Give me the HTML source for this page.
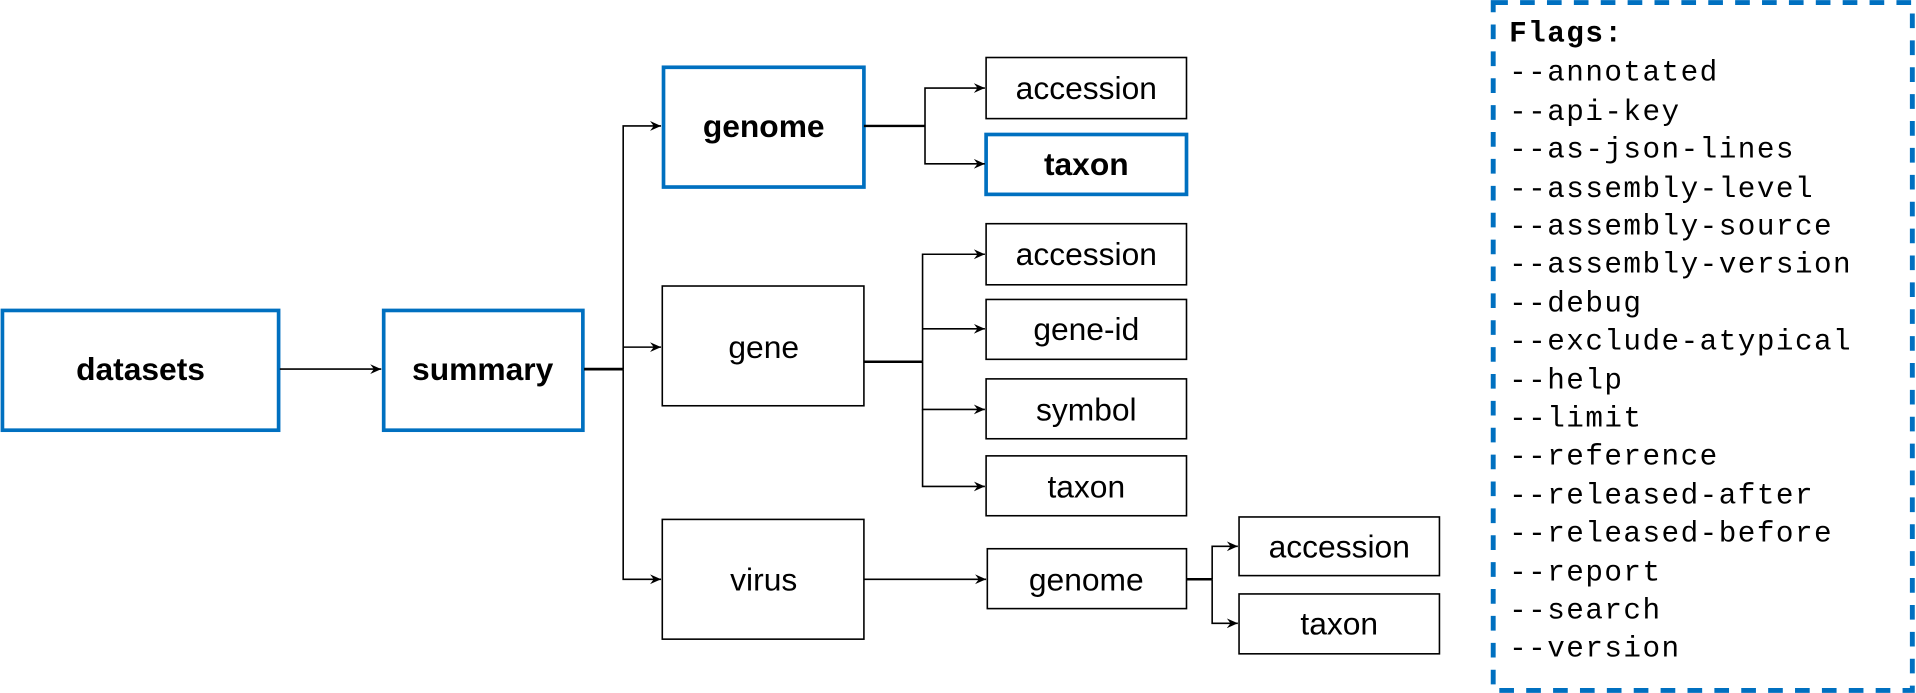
<!DOCTYPE html>
<html><head><meta charset="utf-8"><style>html,body{margin:0;padding:0;background:#fff}svg{display:block}</style></head>
<body>
<svg width="1916" height="693" viewBox="0 0 1568 567" xmlns="http://www.w3.org/2000/svg">
<defs><marker id="a" markerWidth="10" markerHeight="10" refX="9" refY="5" orient="auto" markerUnits="userSpaceOnUse"><path d="M0,1 L9,5 L0,9 L3,5 Z" fill="#000"/></marker></defs>
<g fill="#fff" stroke="#0070c0" stroke-width="3">
<rect x="2" y="254" width="226" height="98"/>
<rect x="314" y="254" width="163" height="98"/>
<rect x="543" y="55" width="164" height="98"/>
<rect x="807" y="110" width="164" height="49"/>
</g>
<g fill="#fff" stroke="#000" stroke-width="1.3">
<rect x="542" y="234" width="165" height="98"/>
<rect x="542" y="425" width="165" height="98"/>
<rect x="807" y="47" width="164" height="50"/>
<rect x="807" y="183" width="164" height="50"/>
<rect x="807" y="245" width="164" height="49"/>
<rect x="807" y="310" width="164" height="49"/>
<rect x="807" y="373" width="164" height="49"/>
<rect x="808" y="449" width="163" height="49"/>
<rect x="1014" y="423" width="164" height="48"/>
<rect x="1014" y="486" width="164" height="49"/>
</g>
<g stroke="#000" stroke-width="1.3" fill="none">
<line x1="229" y1="302" x2="312" y2="302" marker-end="url(#a)"/>
<line x1="478" y1="302" x2="510" y2="302" stroke-width="2.2"/>
<polyline points="510,302 510,103 541,103" marker-end="url(#a)"/>
<polyline points="510,284 541,284" marker-end="url(#a)"/>
<polyline points="510,302 510,474 541,474" marker-end="url(#a)"/>
<line x1="707" y1="103" x2="757" y2="103" stroke-width="2"/>
<polyline points="757,103 757,72 806,72" marker-end="url(#a)"/>
<polyline points="757,103 757,134 806,134" marker-end="url(#a)"/>
<line x1="707" y1="296" x2="755" y2="296" stroke-width="2"/>
<polyline points="755,296 755,208 806,208" marker-end="url(#a)"/>
<polyline points="755,269 806,269" marker-end="url(#a)"/>
<polyline points="755,296 755,335 806,335" marker-end="url(#a)"/>
<polyline points="755,335 755,398 806,398" marker-end="url(#a)"/>
<line x1="707" y1="474" x2="807" y2="474" marker-end="url(#a)"/>
<line x1="971" y1="474" x2="992" y2="474" stroke-width="2"/>
<polyline points="992,474 992,447 1013,447" marker-end="url(#a)"/>
<polyline points="992,474 992,510 1013,510" marker-end="url(#a)"/>
</g>
<g font-family="Liberation Sans, Arial, sans-serif" font-size="26" text-anchor="middle" dominant-baseline="central" fill="#000">
<text x="115" y="302" font-weight="bold">datasets</text>
<text x="395" y="302" font-weight="bold">summary</text>
<text x="625" y="103" font-weight="bold">genome</text>
<text x="889" y="134" font-weight="bold">taxon</text>
<text x="889" y="72">accession</text>
<text x="625" y="284">gene</text>
<text x="889" y="208">accession</text>
<text x="889" y="269">gene-id</text>
<text x="889" y="335">symbol</text>
<text x="889" y="398">taxon</text>
<text x="625" y="474">virus</text>
<text x="889" y="474">genome</text>
<text x="1096" y="447">accession</text>
<text x="1096" y="510">taxon</text>
</g>
<rect x="1222" y="2" width="343" height="563" fill="none" stroke="#0070c0" stroke-width="4" stroke-dasharray="12,10"/>
<g font-family="Liberation Mono, Courier New, monospace" font-size="24" letter-spacing="1.2" fill="#000">
<text x="1235" y="34" font-weight="bold">Flags:</text>
<text x="1235" y="66">--annotated</text>
<text x="1235" y="98">--api-key</text>
<text x="1235" y="129">--as-json-lines</text>
<text x="1235" y="161">--assembly-level</text>
<text x="1235" y="192">--assembly-source</text>
<text x="1235" y="223">--assembly-version</text>
<text x="1235" y="255">--debug</text>
<text x="1235" y="286">--exclude-atypical</text>
<text x="1235" y="318">--help</text>
<text x="1235" y="349">--limit</text>
<text x="1235" y="380">--reference</text>
<text x="1235" y="412">--released-after</text>
<text x="1235" y="443">--released-before</text>
<text x="1235" y="475">--report</text>
<text x="1235" y="506">--search</text>
<text x="1235" y="537">--version</text>
</g>
</svg>
</body></html>
